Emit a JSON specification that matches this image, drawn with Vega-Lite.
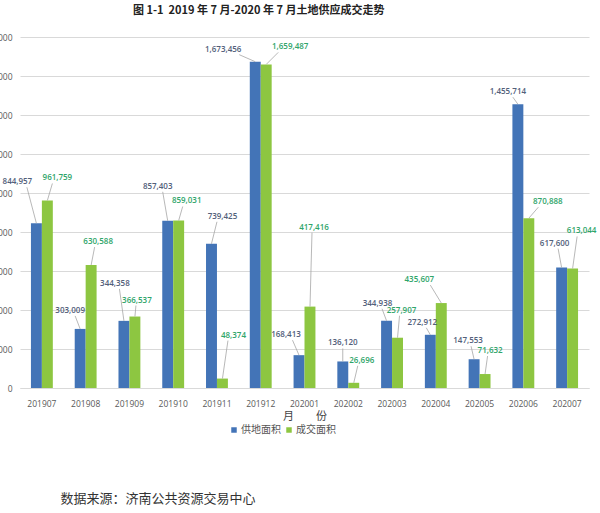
{
  "$schema": "https://vega.github.io/schema/vega-lite/v6.json",
  "autosize": {"type": "none"},
  "padding": {"left": 20, "top": 37, "right": 11, "bottom": 125},
  "width": 569,
  "height": 351,
  "background": "white",
  "config": {"view": {"stroke": null}},
  "title": {
    "text": "图 1-1\u00a0\u00a02019 年 7 月-2020 年 7 月土地供应成交走势",
    "anchor": "start",
    "frame": "group",
    "dx": 113,
    "offset": 17,
    "font": "Noto Sans CJK SC",
    "fontSize": 11,
    "fontWeight": "bold",
    "color": "#222222"
  },
  "data": {
    "values": [
      {"month": "201907", "series": "供地面积", "value": 844957},
      {"month": "201907", "series": "成交面积", "value": 961759},
      {"month": "201908", "series": "供地面积", "value": 303009},
      {"month": "201908", "series": "成交面积", "value": 630588},
      {"month": "201909", "series": "供地面积", "value": 344358},
      {"month": "201909", "series": "成交面积", "value": 366537},
      {"month": "201910", "series": "供地面积", "value": 857403},
      {"month": "201910", "series": "成交面积", "value": 859031},
      {"month": "201911", "series": "供地面积", "value": 739425},
      {"month": "201911", "series": "成交面积", "value": 48374},
      {"month": "201912", "series": "供地面积", "value": 1673456},
      {"month": "201912", "series": "成交面积", "value": 1659487},
      {"month": "202001", "series": "供地面积", "value": 168413},
      {"month": "202001", "series": "成交面积", "value": 417416},
      {"month": "202002", "series": "供地面积", "value": 136120},
      {"month": "202002", "series": "成交面积", "value": 26696},
      {"month": "202003", "series": "供地面积", "value": 344938},
      {"month": "202003", "series": "成交面积", "value": 257907},
      {"month": "202004", "series": "供地面积", "value": 272912},
      {"month": "202004", "series": "成交面积", "value": 435607},
      {"month": "202005", "series": "供地面积", "value": 147553},
      {"month": "202005", "series": "成交面积", "value": 71632},
      {"month": "202006", "series": "供地面积", "value": 1455714},
      {"month": "202006", "series": "成交面积", "value": 870888},
      {"month": "202007", "series": "供地面积", "value": 617600},
      {"month": "202007", "series": "成交面积", "value": 613044}
    ]
  },
  "encoding": {
    "x": {
      "field": "month",
      "type": "nominal",
      "sort": null,
      "scale": {"paddingInner": 0.5, "paddingOuter": 0.25},
      "axis": {
        "title": "月\u3000\u3000份",
        "titleFont": "Noto Sans CJK SC",
        "titleFontSize": 11,
        "titleFontWeight": "normal",
        "titleColor": "#444444",
        "titleY": 28,
        "titleBaseline": "middle",
        "labelFont": "Open Sans",
        "labelFontSize": 8.5,
        "labelColor": "#595959",
        "labelAngle": 0,
        "labelPadding": 11,
        "ticks": false,
        "domainColor": "#d9d9d9",
        "grid": false
      }
    },
    "y": {
      "field": "value",
      "type": "quantitative",
      "scale": {"domain": [0, 1800000], "nice": false},
      "axis": {
        "values": [0, 200000, 400000, 600000, 800000, 1000000, 1200000, 1400000, 1600000, 1800000],
        "format": ",d",
        "title": "数据来源：济南公共资源交易中心",
        "titleAngle": 0,
        "titleX": 40,
        "titleY": 461,
        "titleAlign": "left",
        "titleBaseline": "middle",
        "titleFont": "Noto Sans CJK SC",
        "titleFontSize": 13,
        "titleFontWeight": "normal",
        "titleColor": "#333333",
        "labelFont": "Open Sans",
        "labelFontSize": 8.5,
        "labelColor": "#595959",
        "labelPadding": 8,
        "ticks": false,
        "domain": false,
        "gridColor": "#d9d9d9"
      }
    }
  },
  "layer": [
    {
      "mark": {"type": "bar"},
      "encoding": {
        "xOffset": {"field": "series", "type": "nominal", "sort": ["供地面积", "成交面积"]},
        "color": {
          "field": "series",
          "type": "nominal",
          "scale": {"domain": ["供地面积", "成交面积"], "range": ["#4374B7", "#8DC641"]},
          "legend": {
            "orient": "none",
            "legendX": 209,
            "legendY": 388,
            "direction": "horizontal",
            "title": null,
            "symbolType": "square",
            "symbolSize": 30,
            "symbolStrokeWidth": 0,
            "labelFont": "Noto Sans CJK SC",
            "labelFontSize": 10,
            "labelColor": "#555555",
            "columnPadding": 3,
            "labelOffset": 2
          }
        }
      }
    },
    {
      "transform": [{"filter": "datum.series === '供地面积'"}],
      "mark": {
        "type": "rule",
        "color": "#a6a6a6",
        "strokeWidth": 0.8,
        "xOffset": -5.5,
        "x2Offset": {"expr": "-5.5 + 0.5*({'201907':-19,'201908':-10,'201909':-9,'201910':-10,'201911':11,'201912':-32,'202001':-13,'202002':0,'202003':-9,'202004':-8,'202005':-6,'202006':-10,'202007':-7})[datum.month]"},
        "y2Offset": {"expr": "5 + ({'201907':-41,'201908':-18,'201909':-37,'201910':-34,'201911':-27,'201912':-12,'202001':-20,'202002':-18,'202003':-17,'202004':-12,'202005':-18,'202006':-12,'202007':-24})[datum.month]"}
      },
      "encoding": {
        "x2": {"field": "month"},
        "y2": {"field": "value"}
      }
    },
    {
      "transform": [{"filter": "datum.series === '成交面积'"}],
      "mark": {
        "type": "rule",
        "color": "#a6a6a6",
        "strokeWidth": 0.8,
        "xOffset": 5.5,
        "x2Offset": {"expr": "5.5 + 0.5*({'201907':10,'201908':7,'201909':2,'201910':8,'201911':11,'201912':24,'202001':4,'202002':8,'202003':4,'202004':-22,'202005':5,'202006':19,'202007':9})[datum.month]"},
        "y2Offset": {"expr": "5 + ({'201907':-22,'201908':-23,'201909':-16,'201910':-19,'201911':-43,'201912':-17,'202001':-79,'202002':-22,'202003':-27,'202004':-23,'202005':-23,'202006':-16,'202007':-37})[datum.month]"}
      },
      "encoding": {
        "x2": {"field": "month"},
        "y2": {"field": "value"}
      }
    },
    {
      "transform": [{"filter": "datum.series === '供地面积'"}],
      "mark": {
        "type": "text",
        "font": "Open Sans",
        "fontSize": 8,
        "fontWeight": 600,
        "color": "#52607a",
        "align": "center",
        "baseline": "middle",
        "xOffset": -5.5,
        "dx": {"expr": "({'201907':-19,'201908':-10,'201909':-9,'201910':-10,'201911':11,'201912':-32,'202001':-13,'202002':0,'202003':-9,'202004':-8,'202005':-6,'202006':-10,'202007':-7})[datum.month]"},
        "dy": {"expr": "({'201907':-41,'201908':-18,'201909':-37,'201910':-34,'201911':-27,'201912':-12,'202001':-20,'202002':-18,'202003':-17,'202004':-12,'202005':-18,'202006':-12,'202007':-24})[datum.month]"}
      },
      "encoding": {
        "text": {"field": "value", "type": "quantitative", "format": ",d"}
      }
    },
    {
      "transform": [{"filter": "datum.series === '成交面积'"}],
      "mark": {
        "type": "text",
        "font": "Open Sans",
        "fontSize": 8,
        "fontWeight": 600,
        "color": "#2fa56a",
        "align": "center",
        "baseline": "middle",
        "xOffset": 5.5,
        "dx": {"expr": "({'201907':10,'201908':7,'201909':2,'201910':8,'201911':11,'201912':24,'202001':4,'202002':8,'202003':4,'202004':-22,'202005':5,'202006':19,'202007':9})[datum.month]"},
        "dy": {"expr": "({'201907':-22,'201908':-23,'201909':-16,'201910':-19,'201911':-43,'201912':-17,'202001':-79,'202002':-22,'202003':-27,'202004':-23,'202005':-23,'202006':-16,'202007':-37})[datum.month]"}
      },
      "encoding": {
        "text": {"field": "value", "type": "quantitative", "format": ",d"}
      }
    }
  ]
}
